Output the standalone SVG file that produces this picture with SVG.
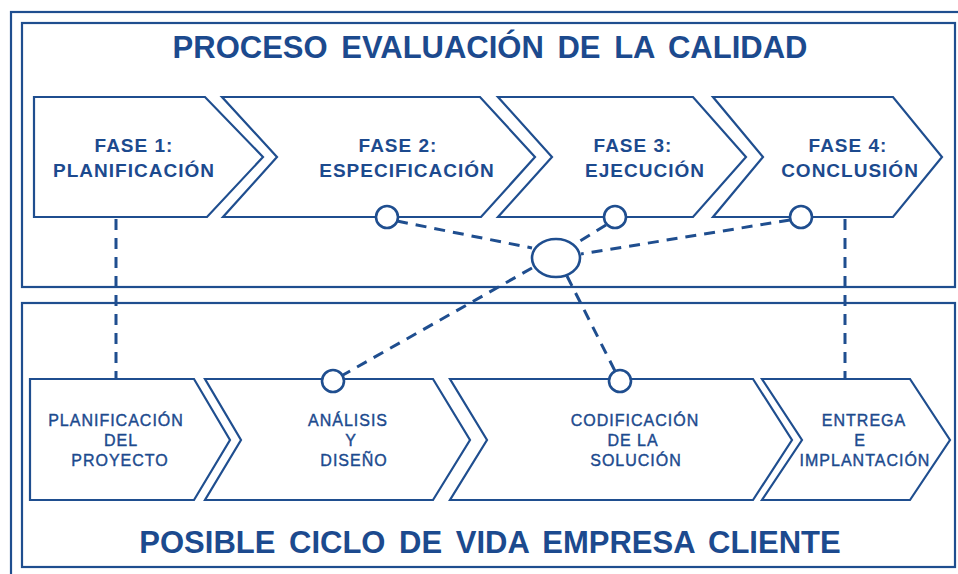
<svg xmlns="http://www.w3.org/2000/svg" width="958" height="574" viewBox="0 0 958 574">
<style>
.frame{fill:none;stroke:#1f4e8f;stroke-width:2.2}
.chev{fill:#fff;stroke:#1f4e8f;stroke-width:2.2;stroke-linejoin:miter}
.dot{fill:#fff;stroke:#1f4e8f;stroke-width:2.6}
.dash{fill:none;stroke:#1f4e8f;stroke-width:3;stroke-dasharray:11 8}
.title{font-family:"Liberation Sans",Arial,sans-serif;font-weight:bold;font-size:31px;fill:#1c4a8e;text-anchor:middle;word-spacing:5px}
.t1{font-family:"Liberation Sans",Arial,sans-serif;font-weight:bold;font-size:19px;fill:#1c4a8e;text-anchor:middle;letter-spacing:1px}
.t2{font-family:"Liberation Sans",Arial,sans-serif;font-size:16px;fill:#1c4a8e;stroke:#1c4a8e;stroke-width:0.4;text-anchor:middle;letter-spacing:1px}
</style>
<rect width="958" height="574" fill="#fff"/>
<g id="frames">
<rect class="frame" x="11" y="12" width="960" height="600"/>
<rect class="frame" x="22" y="23" width="933" height="264"/>
<rect class="frame" x="22" y="303" width="933" height="264"/>
</g>
<g id="titles">
<text class="title" x="490" y="58">PROCESO EVALUACIÓN DE LA CALIDAD</text>
<text class="title" x="490" y="553">POSIBLE CICLO DE VIDA EMPRESA CLIENTE</text>
</g>
<g id="fase1">
<polygon class="chev" points="34,97 205,97 263,157 207,217 34,217"/>
<text class="t1" x="134" y="152">FASE 1:</text>
<text class="t1" x="134" y="177">PLANIFICACIÓN</text>
</g>
<g id="fase2">
<polygon class="chev" points="222,97 480,97 535,157 481,217 223,217 277,157"/>
<text class="t1" x="398" y="152">FASE 2:</text>
<text class="t1" x="407" y="177">ESPECIFICACIÓN</text>
</g>
<g id="fase3">
<polygon class="chev" points="498,97 693,97 746,157 693,217 498,217 552,157"/>
<text class="t1" x="633" y="152">FASE 3:</text>
<text class="t1" x="645" y="177">EJECUCIÓN</text>
</g>
<g id="fase4">
<polygon class="chev" points="713,97 893,97 942,157 893,217 713,217 763,157"/>
<text class="t1" x="848" y="152">FASE 4:</text>
<text class="t1" x="850" y="177">CONCLUSIÓN</text>
</g>
<g id="ciclo1">
<polygon class="chev" points="30,379 194,379 230,440 194,500 30,500"/>
<text class="t2" x="116" y="426">PLANIFICACIÓN</text>
<text class="t2" x="121" y="446">DEL</text>
<text class="t2" x="120" y="466">PROYECTO</text>
</g>
<g id="ciclo2">
<polygon class="chev" points="205,379 433,379 470,440 433,500 205,500 241,440"/>
<text class="t2" x="348" y="426">ANÁLISIS</text>
<text class="t2" x="351" y="446">Y</text>
<text class="t2" x="354" y="466">DISEÑO</text>
</g>
<g id="ciclo3">
<polygon class="chev" points="450,379 753,379 792,440 753,500 450,500 487,440"/>
<text class="t2" x="635" y="426">CODIFICACIÓN</text>
<text class="t2" x="633" y="446">DE LA</text>
<text class="t2" x="636" y="466">SOLUCIÓN</text>
</g>
<g id="ciclo4">
<polygon class="chev" points="762,379 910,379 950,440 910,500 762,500 802,440"/>
<text class="t2" x="864" y="426">ENTREGA</text>
<text class="t2" x="860" y="446">E</text>
<text class="t2" x="865" y="466">IMPLANTACIÓN</text>
</g>
<g id="connectors">
<line class="dash" x1="116" y1="219" x2="116" y2="379"/>
<line class="dash" x1="845" y1="219" x2="845" y2="379"/>
<line class="dash" x1="397" y1="221" x2="532" y2="248"/>
<line class="dash" x1="606" y1="225" x2="575" y2="244"/>
<line class="dash" x1="790" y1="220" x2="581" y2="254"/>
<line class="dash" x1="532" y1="268" x2="343" y2="375"/>
<line class="dash" x1="567" y1="276" x2="615" y2="371"/>
</g>
<g id="hub">
<ellipse class="dot" cx="556" cy="258" rx="24" ry="19"/>
</g>
<g id="puntos">
<circle class="dot" cx="387" cy="217" r="11"/>
<circle class="dot" cx="615" cy="217" r="11"/>
<circle class="dot" cx="801" cy="217" r="11"/>
<circle class="dot" cx="333" cy="381" r="11"/>
<circle class="dot" cx="620" cy="381" r="11"/>
</g>
</svg>
